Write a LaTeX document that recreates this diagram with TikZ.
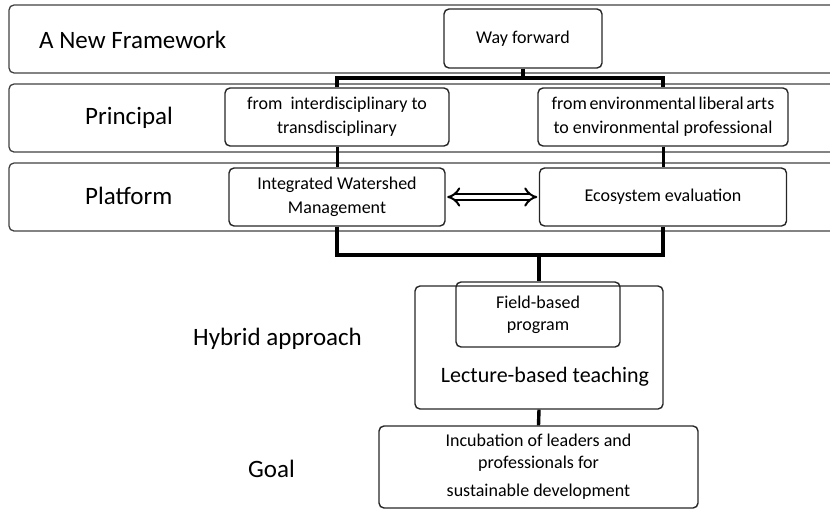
\documentclass[tikz,border=0pt]{standalone}
\usepackage{fontspec}
\setmainfont{Carlito}
\usetikzlibrary{arrows.meta}
\begin{document}
\begin{tikzpicture}[x=1pt,y=-1pt,
  band/.style={draw=black!75,line width=1.3pt,rounded corners=5pt,inner sep=0pt},
  box/.style={draw=black!85,line width=1.4pt,rounded corners=5pt,align=center,inner sep=0pt,font=\fontsize{18}{24}\selectfont},
  biglbl/.style={inner sep=0pt,anchor=west,font=\fontsize{25}{28}\selectfont},
  conn/.style={line width=3.4pt},
  connthin/.style={line width=3pt}]
\useasboundingbox (0,0) rectangle (830,509);
% bands
\node[band,minimum width=828pt,minimum height=68pt] (b1) at (423,39) {};
\node[band,minimum width=828pt,minimum height=68pt] (b2) at (423,118) {};
\node[band,minimum width=828pt,minimum height=68pt] (b3) at (423,197) {};
% band labels
\node[biglbl] (l1) at (39,40) {A New Framework};
\node[biglbl] (l2) at (85,118) {Principal};
\node[biglbl] (l3) at (85,196) {Platform};
\node[biglbl] (l4) at (193,339) {Hybrid approach};
\node[biglbl] (l5) at (248,469) {Goal};
% boxes
\node[box,minimum width=158pt,minimum height=59pt] (wf) at (523,38.5) {Way forward};
\node[box,minimum width=224pt,minimum height=58pt] (pa) at (337,117) {from\ \ interdisciplinary to\\transdisciplinary};
\node[box,minimum width=250pt,minimum height=58pt] (pb) at (663,117) {\spaceskip=2.5pt from environmental liberal arts\\to environmental professional};
\node[box,minimum width=216pt,minimum height=58pt] (iwm) at (337,197) {Integrated Watershed\\Management};
\node[box,minimum width=247pt,minimum height=58pt] (eco) at (663,197) {Ecosystem evaluation};
\node[box,minimum width=248pt,minimum height=123pt] (lect) at (539,347.5) {};
\node[inner sep=0pt,font=\fontsize{22}{24}\selectfont] (lectt) at (545,377) {Lecture-based teaching};
\node[box,minimum width=164pt,minimum height=65pt,font=\fontsize{18}{22}\selectfont] (field) at (538,314.5) {Field-based\\program};
\node[box,minimum width=319pt,minimum height=82pt,font=\fontsize{18}{22}\selectfont] (goal) at (538.5,467) {Incubation of leaders and\\professionals for\\[6pt]sustainable development};
% connectors
\coordinate (j1) at (523,78);
\coordinate (j2) at (539,255);
\draw[conn] (wf.south) -- (j1);
\draw[conn] (pa.north) |- (j1) -| (pb.north);
\draw[connthin] (pa.south) -- (iwm.north);
\draw[connthin] (pb.south) -- (eco.north);
\draw[conn] (iwm.south) |- (j2) -| (eco.south);
\draw[conn] (j2) -- (j2 |- field.north);
\draw[conn] (lect.south) -- (goal.north);
\draw[line width=2pt,double distance=4.5pt,{Implies[length=10pt]}-{Implies[length=10pt]},shorten <=1.5pt,shorten >=1.5pt] (iwm.east) -- (eco.west);
\end{tikzpicture}
\end{document}
